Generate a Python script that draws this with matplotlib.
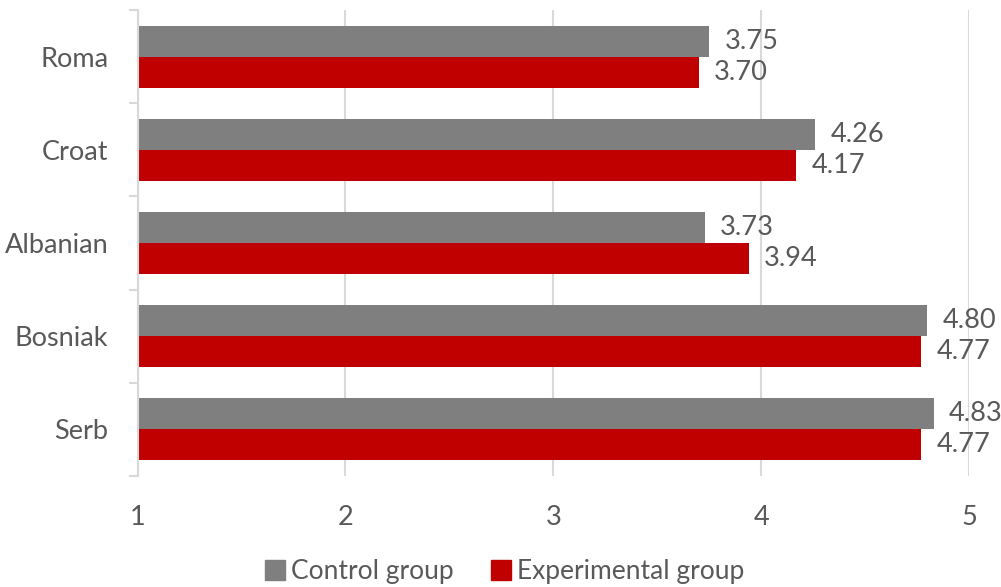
import numpy as np
import matplotlib

matplotlib.use("Agg")
import matplotlib.pyplot as plt
from matplotlib.lines import Line2D

groups = ["Roma", "Croat", "Albanian", "Bosniak", "Serb"]
control = [3.75, 4.26, 3.73, 4.80, 4.83]
experimental = [3.70, 4.17, 3.94, 4.77, 4.77]
x_ticks = [1, 2, 3, 4, 5]

GRAY = "#7f7f7f"
RED = "#c00000"
TEXT = "#595959"
GRID = "#d9d9d9"
FS = 19.5

plt.rcParams["font.family"] = ["Lato", "DejaVu Sans"]

fig = plt.figure(figsize=(10.01, 5.87), dpi=100)
ax = fig.add_axes([137.5 / 1001, 111 / 587, (969 - 137.5) / 1001, 466 / 587])

y = np.arange(len(groups))
h = 1 / 3
ax.barh(y - h / 2, np.array(control) - 1, left=1, height=h, color=GRAY, zorder=3)
ax.barh(y + h / 2, np.array(experimental) - 1, left=1, height=h, color=RED, zorder=3)

# value labels just past the end of each bar
for yi, c, e in zip(y, control, experimental):
    ax.annotate(f"{c:.2f}", (c, yi - h / 2), xytext=(11, 0), textcoords="offset points",
                va="center", ha="left", fontsize=FS, color=TEXT)
    ax.annotate(f"{e:.2f}", (e, yi + h / 2), xytext=(11, 0), textcoords="offset points",
                va="center", ha="left", fontsize=FS, color=TEXT)

ax.set_xlim(1, 5)
ax.set_ylim(len(groups) - 0.5, -0.5)
ax.set_xticks(x_ticks)
ax.set_xticklabels([str(t) for t in x_ticks])
ax.set_yticks(y)
ax.set_yticklabels(groups)
ax.set_yticks(np.arange(-0.5, len(groups)), minor=True)

ax.tick_params(axis="x", length=0, pad=21, labelsize=FS, labelcolor=TEXT)
ax.tick_params(axis="y", which="major", length=0, pad=21, labelsize=FS, labelcolor=TEXT)
ax.tick_params(axis="y", which="minor", length=6.5, width=1.5, color=GRID)

ax.grid(axis="x", color=GRID, linewidth=1.5, zorder=0)
for side in ["top", "right", "bottom"]:
    ax.spines[side].set_visible(False)
ax.spines["left"].set_color(GRID)
ax.spines["left"].set_linewidth(1.5)
ax.spines["left"].set_zorder(4)

handles = [
    Line2D([], [], marker="s", linestyle="none", markersize=14, color=GRAY),
    Line2D([], [], marker="s", linestyle="none", markersize=14, color=RED),
]
leg = fig.legend(handles, ["Control group", "Experimental group"], loc="center",
                 bbox_to_anchor=(503 / 1001, 1 - 572 / 587), ncol=2, frameon=False,
                 fontsize=19, handletextpad=0.1, columnspacing=1.3, handlelength=1.0)
for t in leg.get_texts():
    t.set_color(TEXT)

fig.savefig("out.png", dpi=100)
